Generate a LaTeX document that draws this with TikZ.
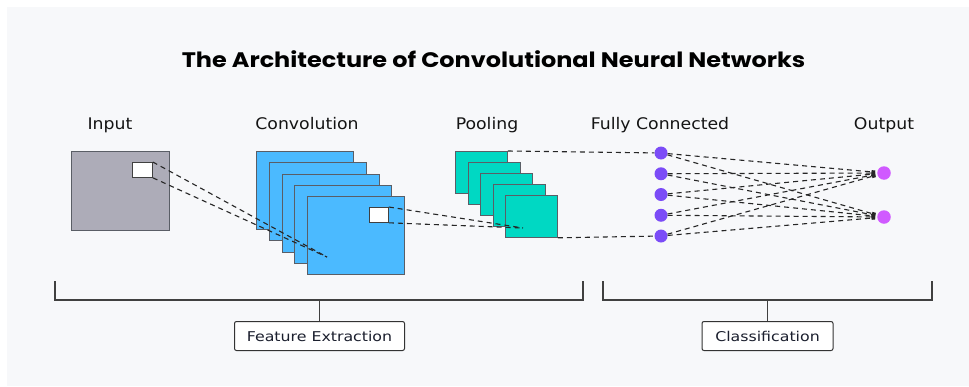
\documentclass[tikz,border=0pt]{standalone}
\usepackage{graphicx}
\usepackage{fontspec}
\setmainfont{DejaVu Sans}
\newfontfamily\titlefont{Poppins}
\usetikzlibrary{arrows.meta}
\definecolor{panel}{HTML}{F7F8FA}
\definecolor{ingray}{HTML}{ADACB8}
\definecolor{convblue}{HTML}{4BBAFF}
\definecolor{poolteal}{HTML}{00D8C3}
\definecolor{fcpurple}{HTML}{7B4CF7}
\definecolor{outpink}{HTML}{D05AFF}
\definecolor{edgegray}{HTML}{5A5E66}
\definecolor{txtdark}{HTML}{1B1F2E}
\newcommand{\hstretch}[2]{\scalebox{#1}[1]{#2}}
\tikzset{
  layer/.style={draw=edgegray, line width=0.8pt, anchor=north west, inner sep=0pt},
  inbox/.style={layer, fill=ingray, minimum width=98pt, minimum height=79pt},
  convbox/.style={layer, fill=convblue, minimum width=97pt, minimum height=78pt},
  poolbox/.style={layer, fill=poolteal, minimum width=52pt, minimum height=42pt},
  winbox/.style={layer, draw=black!75, fill=white},
  fcnode/.style={circle, fill=fcpurple, inner sep=0pt, minimum size=13pt},
  outnode/.style={circle, fill=outpink, inner sep=0pt, minimum size=13.5pt},
  dline/.style={draw=black!85, line width=1.1pt, dash pattern=on 5pt off 4pt},
  heading/.style={anchor=base, font=\fontsize{16}{19}\selectfont, text=black!92},
  brk/.style={draw=black!75, line width=1.2pt},
  tagbox/.style={draw=black!80, line width=1pt, fill=white, rounded corners=2pt,
    inner sep=0pt, text=txtdark, font=\fontsize{13.5}{16}\selectfont}
}
\begin{document}
\begin{tikzpicture}[x=1pt,y=-1pt]
\useasboundingbox (0,0) rectangle (969,386);
\fill[white] (0,0) rectangle (969,386);
\fill[panel] (7,7) rectangle (969,386);

\node[font=\titlefont\bfseries\fontsize{21}{25}\selectfont, anchor=base] (title) at (493.5,67.3) {\hstretch{1.14}{The Architecture of Convolutional Neural Networks}};

\node[heading] (hin) at (110,129) {\hstretch{1.08}{Input}};
\node[heading] (hconv) at (307,129) {\hstretch{1.08}{Convolution}};
\node[heading] (hpool) at (487,129) {\hstretch{1.08}{Pooling}};
\node[heading] (hfc) at (660,129) {\hstretch{1.08}{Fully Connected}};
\node[heading] (hout) at (884,129) {\hstretch{1.08}{Output}};

% input
\node[inbox] (in) at (71,151) {};
\node[winbox, minimum width=20pt, minimum height=15pt] (insq) at (132,162) {};

% convolution layers
\foreach \i in {1,...,5}{
  \node[convbox] (c\i) at ({256+12.75*(\i-1)},{151+11.25*(\i-1)}) {};
}
\node[winbox, minimum width=19pt, minimum height=15pt] (csq) at (369,207) {};

% pooling layers
\foreach \i in {1,...,5}{
  \node[poolbox] (p\i) at ({455+12.5*(\i-1)},{151+11*(\i-1)}) {};
}

\coordinate (cend) at (327,257);
\coordinate (pend) at (523,228);

\draw[dline] (insq.north east) -- (cend);
\draw[dline] (insq.south east) -- (cend);
\draw[dline] (csq.north east) -- (pend);
\draw[dline] (csq.south east) -- (pend);

% fully connected
\foreach \i in {1,...,5}{
  \node[fcnode] (f\i) at (661,{153+20.75*(\i-1)}) {};
}
\node[outnode] (o1) at (884,173) {};
\node[outnode] (o2) at (884,217) {};

\draw[dline] (p1.north east) -- (f1);
\draw[dline] (p5.south east) -- (f5);

\foreach \i in {1,...,5}{
  \foreach \j in {1,2}{
    \draw[dline, -{Square[length=3.5pt,width=3.5pt]}, shorten >=2pt] (f\i) -- (o\j);
  }
}

% brackets
\node[tagbox, minimum width=170pt, minimum height=29pt] (fe) at (319.5,336) {\hstretch{1.17}{Feature Extraction}};
\node[tagbox, minimum width=131pt, minimum height=29pt] (cl) at (767.5,336) {\hstretch{1.17}{Classification}};
\draw[brk] (55,281) -- (55,300) -- (583,300) -- (583,281);
\draw[brk] (603,281) -- (603,300) -- (932,300) -- (932,281);
\draw[brk, line width=1pt] (fe.north |- 0,300) -- (fe.north);
\draw[brk, line width=1pt] (cl.north |- 0,300) -- (cl.north);
\end{tikzpicture}
\end{document}
